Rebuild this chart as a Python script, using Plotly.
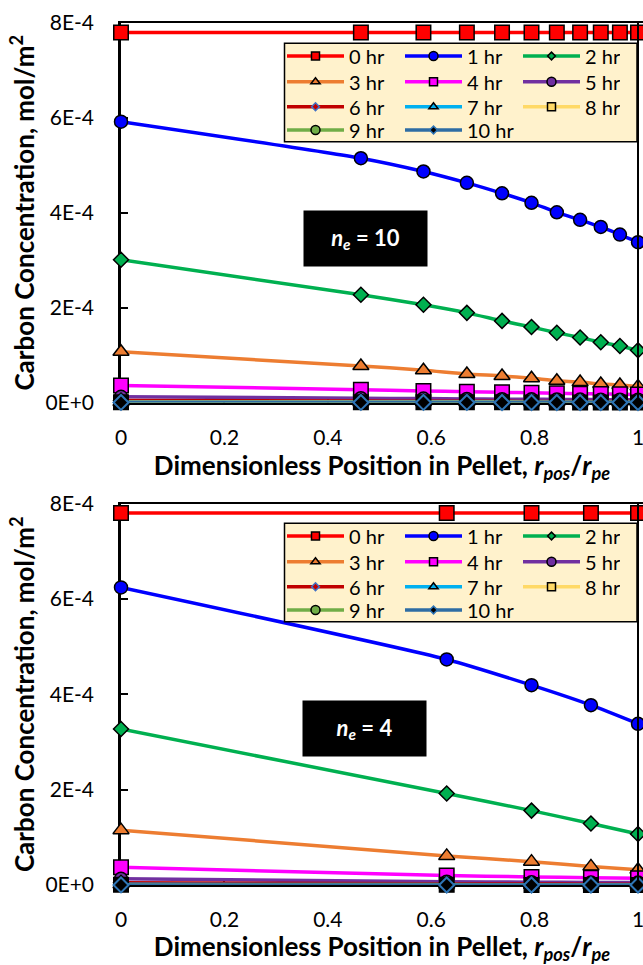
import plotly.graph_objects as go

# ---------------- data ----------------
hour_labels = ["0 hr", "1 hr", "2 hr", "3 hr", "4 hr", "5 hr", "6 hr", "7 hr", "8 hr", "9 hr", "10 hr"]

x_ne10 = [0, 0.464, 0.585, 0.669, 0.737, 0.794, 0.843, 0.888, 0.928, 0.965, 1.0]
x_ne4 = [0, 0.630, 0.794, 0.909, 1.0]

conc_ne10 = [
    [7.8e-4, 7.8e-4, 7.8e-4, 7.8e-4, 7.8e-4, 7.8e-4, 7.8e-4, 7.8e-4, 7.8e-4, 7.8e-4, 7.8e-4],
    [5.92e-4, 5.15e-4, 4.87e-4, 4.63e-4, 4.41e-4, 4.21e-4, 4.01e-4, 3.85e-4, 3.70e-4, 3.54e-4, 3.38e-4],
    [3.01e-4, 2.27e-4, 2.06e-4, 1.89e-4, 1.72e-4, 1.59e-4, 1.47e-4, 1.37e-4, 1.27e-4, 1.19e-4, 1.10e-4],
    [1.07e-4, 7.7e-5, 6.8e-5, 6.0e-5, 5.6e-5, 5.1e-5, 4.6e-5, 4.3e-5, 3.9e-5, 3.7e-5, 3.4e-5],
    [3.6e-5, 2.7e-5, 2.45e-5, 2.25e-5, 2.15e-5, 2.05e-5, 1.95e-5, 1.85e-5, 1.8e-5, 1.75e-5, 1.7e-5],
    [1.2e-5, 9.0e-6, 8.2e-6, 7.5e-6, 7.1e-6, 6.8e-6, 6.5e-6, 6.2e-6, 6.0e-6, 5.8e-6, 5.6e-6],
    [4.0e-6, 3.0e-6, 2.7e-6, 2.5e-6, 2.4e-6, 2.3e-6, 2.2e-6, 2.1e-6, 2.0e-6, 1.95e-6, 1.9e-6],
    [1.3e-6, 1.0e-6, 9.0e-7, 8.4e-7, 8.0e-7, 7.6e-7, 7.3e-7, 7.0e-7, 6.7e-7, 6.5e-7, 6.3e-7],
    [4.4e-7, 3.4e-7, 3.0e-7, 2.8e-7, 2.7e-7, 2.55e-7, 2.45e-7, 2.35e-7, 2.25e-7, 2.2e-7, 2.1e-7],
    [1.5e-7, 1.1e-7, 1.0e-7, 9.5e-8, 9.0e-8, 8.5e-8, 8.2e-8, 7.8e-8, 7.5e-8, 7.3e-8, 7.0e-8],
    [5.0e-8, 3.8e-8, 3.4e-8, 3.2e-8, 3.0e-8, 2.9e-8, 2.7e-8, 2.6e-8, 2.5e-8, 2.45e-8, 2.4e-8],
]

conc_ne4 = [
    [7.8e-4, 7.8e-4, 7.8e-4, 7.8e-4, 7.8e-4],
    [6.24e-4, 4.73e-4, 4.19e-4, 3.77e-4, 3.38e-4],
    [3.27e-4, 1.92e-4, 1.56e-4, 1.29e-4, 1.07e-4],
    [1.15e-4, 6.1e-5, 4.9e-5, 3.9e-5, 3.2e-5],
    [3.7e-5, 2.0e-5, 1.7e-5, 1.5e-5, 1.4e-5],
    [1.3e-5, 7.0e-6, 6.0e-6, 5.3e-6, 5.0e-6],
    [4.5e-6, 2.4e-6, 2.0e-6, 1.8e-6, 1.7e-6],
    [1.5e-6, 8.0e-7, 6.8e-7, 6.1e-7, 5.7e-7],
    [5.0e-7, 2.7e-7, 2.3e-7, 2.0e-7, 1.9e-7],
    [1.7e-7, 9.0e-8, 7.7e-8, 6.8e-8, 6.4e-8],
    [5.6e-8, 3.0e-8, 2.6e-8, 2.3e-8, 2.1e-8],
]

x_tickvals = [0, 0.2, 0.4, 0.6, 0.8, 1.0]
x_ticktext = ["0", "0.2", "0.4", "0.6", "0.8", "1"]
y_tickvals = [0, 2e-4, 4e-4, 6e-4, 8e-4]
y_ticktext = ["0E+0", "2E-4", "4E-4", "6E-4", "8E-4"]

panel_labels = ["<b><i>n</i><sub><i>e</i></sub> = 10</b>", "<b><i>n</i><sub><i>e</i></sub> = 4</b>"]
x_title = "<b>Dimensionless Position in Pellet, <i>r</i><sub><i>pos</i></sub>/<i>r</i><sub><i>pe</i></sub></b>"
y_title = "<b>Carbon Concentration, mol/m<sup>2</sup></b>"

# ---------------- styles ----------------
W, H = 643, 965
FONT = "Lato"
line_colors = ["#FF0000", "#0000FF", "#00B050", "#ED7D31", "#FF00FF", "#7030A0",
               "#C00000", "#00B0F0", "#FFD966", "#70AD47", "#2E6DA4"]
symbols = ["square", "circle", "diamond", "triangle-up", "square", "circle",
           "diamond", "triangle-up", "square", "circle", "diamond"]
legend_fill = ["#FF0000", "#0000FF", "#00B050", "#ED7D31", "#FF00FF", "#7030A0",
               "#C00000", "#00B0F0", "#FFD966", "#70AD47", "#000000"]
legend_edge = ["#000000"] * 6 + ["#4472C4", "#000000", "#000000", "#000000", "#2E75B6"]
data_fill = ["#FF0000", "#0000FF", "#00B050", "#ED7D31", "#FF00FF", "#7030A0",
             "#C00000", "#000000", "#000000", "#000000", "#000000"]
data_edge = ["#000000"] * 10 + ["#2E75B6"]
data_size = {"square": 14.5, "circle": 13, "diamond": 11.5, "triangle-up": 14}
leg_size = {"square": 8, "circle": 9, "diamond": 6, "triangle-up": 8}

x_px0, x_px1 = 121.0, 638.0           # pixel positions of x=0 and x=1
x_max = (W - x_px0) / (x_px1 - x_px0)
panels = [
    dict(x=x_ne10, c=conc_ne10, y0=402.5, y8=23.0, ax="", leg_top=43.3, ann=(365.5, 238.5)),
    dict(x=x_ne4, c=conc_ne4, y0=885.0, y8=503.5, ax="2", leg_top=523.3, ann=(364.5, 728.5)),
]
row_centers = [12.7, 38.4, 63.4, 86.7]
legend_rows = [[0, 1, 2], [3, 4, 5], [6, 7, 8], [9, 10]]

fig = go.Figure()
layout_upd = {}
shapes = []
annotations = []
leg_idx = 0

for p_i, p in enumerate(panels):
    xa = "x" + p["ax"]
    ya = "y" + p["ax"]
    for i in range(11):
        sym = symbols[i]
        fig.add_trace(go.Scatter(
            x=p["x"], y=p["c"][i], mode="lines+markers", xaxis=xa, yaxis=ya,
            line=dict(color=line_colors[i], width=3.5, shape="spline", smoothing=0.6),
            marker=dict(symbol=sym, size=data_size[sym], color=data_fill[i],
                        line=dict(color=data_edge[i], width=1.5 if i < 10 else 2)),
            showlegend=False, cliponaxis=False, name=hour_labels[i]))
    # legend box
    shapes.append(dict(type="rect", xref="paper", yref="paper",
                       x0=284.5 / W, x1=637 / W,
                       y0=1 - (p["leg_top"] + 98.5) / H, y1=1 - p["leg_top"] / H,
                       fillcolor="#FFF2CC", line=dict(color="#000000", width=1.5), layer="above"))
    for r, row in enumerate(legend_rows):
        lname = "legend" if leg_idx == 0 else "legend%d" % (leg_idx + 1)
        for k, i in enumerate(row):
            sym = symbols[i]
            tr = dict(
                x=[None], y=[None], mode="lines+markers", xaxis=xa, yaxis=ya,
                line=dict(color=line_colors[i], width=3.5),
                marker=dict(symbol=sym, size=leg_size[sym], color=legend_fill[i],
                            line=dict(color=legend_edge[i], width=1.5)),
                name=hour_labels[i], legend=lname, showlegend=True)
            if k == 2:
                tr["legendwidth"] = 30
            fig.add_trace(go.Scatter(**tr))
        layout_upd[lname] = dict(
            orientation="h", x=282 / W, xanchor="left",
            y=1 - (p["leg_top"] + row_centers[r]) / H, yanchor="middle",
            bgcolor="rgba(0,0,0,0)", borderwidth=0,
            itemwidth=57, entrywidth=46, entrywidthmode="pixels",
            font=dict(family=FONT, size=20, color="#000000"),
            itemclick=False, itemdoubleclick=False)
        leg_idx += 1
    # vertical line at x = 1
    shapes.append(dict(type="line", xref=xa, yref=ya, x0=1, x1=1, y0=-0.1e-4, y1=8e-4,
                       line=dict(color="#000000", width=2), layer="above"))
    # panel annotation
    ax_, ay_ = p["ann"]
    annotations.append(dict(xref="paper", yref="paper", x=ax_ / W, y=1 - ay_ / H,
                            text=panel_labels[p_i], showarrow=False,
                            font=dict(family=FONT, size=22, color="#FFFFFF"),
                            bgcolor="#000000", width=115, height=47, borderpad=4,
                            xanchor="center", yanchor="middle"))
    # axes
    xdom = [x_px0 / W, 1.0]
    ydom = [1 - p["y0"] / H, 1 - p["y8"] / H]
    xkey = "xaxis" + p["ax"]
    ykey = "yaxis" + p["ax"]
    layout_upd[xkey] = dict(
        domain=xdom, range=[0, x_max], anchor=ya, automargin=False,
        tickvals=x_tickvals, ticktext=x_ticktext, ticklabeloverflow="allow",
        ticks="inside", ticklen=4, tickwidth=1.5, tickcolor="#000000",
        showline=True, mirror=True, linecolor="#000000", linewidth=2,
        showgrid=False, zeroline=False, layer="below traces",
        ticklabelstandoff=15,
        tickfont=dict(family=FONT, size=21, color="#000000"),
        title=dict(text=x_title, font=dict(family=FONT, size=26, color="#000000"), standoff=5))
    layout_upd[ykey] = dict(
        domain=ydom, range=[0, 8e-4], anchor=xa, automargin=False,
        tickvals=y_tickvals, ticktext=y_ticktext, ticklabeloverflow="allow",
        ticks="inside", ticklen=7, tickwidth=2, tickcolor="#000000",
        showline=True, linecolor="#000000", linewidth=2.5,
        showgrid=False, zeroline=False, layer="below traces",
        ticklabelstandoff=20,
        tickfont=dict(family=FONT, size=21, color="#000000"),
        title=dict(text=y_title, font=dict(family=FONT, size=26, color="#000000"), standoff=4))

fig.update_layout(
    width=W, height=H, margin=dict(l=0, r=0, t=0, b=0, autoexpand=False),
    paper_bgcolor="#FFFFFF", plot_bgcolor="#FFFFFF",
    font=dict(family=FONT, color="#000000"),
    shapes=shapes, annotations=annotations, **layout_upd)

fig.write_html("out.html")
